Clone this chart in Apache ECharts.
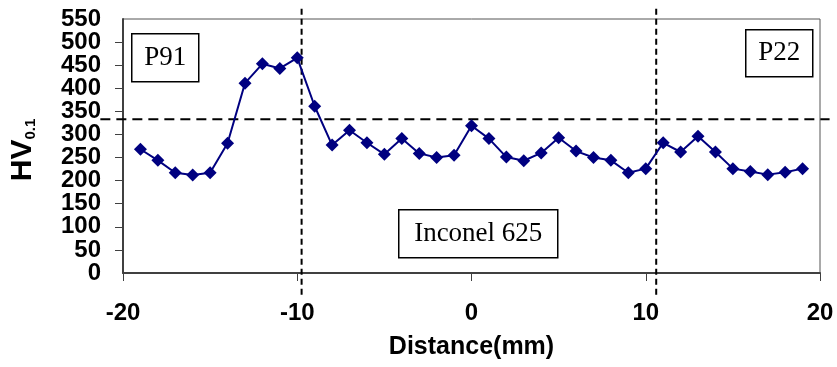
<!DOCTYPE html>
<html>
<head>
<meta charset="utf-8">
<script src="https://cdn.jsdelivr.net/npm/echarts@6/dist/echarts.min.js"></script>
<style>
html,body{margin:0;padding:0;background:#fff}
#chart{width:837px;height:367px}
</style>
</head>
<body>
<div id="chart"></div>
<script>
// microhardness profile across the weld
var distance = [-19,-18,-17,-16,-15,-14,-13,-12,-11,-10,-9,-8,-7,-6,-5,-4,-3,-2,-1,0,
                1,2,3,4,5,6,7,8,9,10,11,12,13,14,15,16,17,18,19];
var hardness = [268,244,217,212,217,281,411,453,443,466,361,277,309,282,257,291,259,250,255,319,
                291,251,243,260,293,264,250,244,217,226,282,262,296,262,226,220,213,218,226];
var hvLimit = 333;               // horizontal dashed line
var fusionLines = [-9.75, 10.6]; // vertical dashed lines
var zoneNames = ['P91', 'Inconel 625', 'P22'];

var sans = '"Liberation Sans", Arial, sans-serif';
var serif = '"Liberation Serif", "Times New Roman", serif';

var points = [];
for (var i = 0; i < distance.length; i++) {
    points.push([distance[i], hardness[i]]);
}

var myChart = echarts.init(document.getElementById('chart'));

var yLabelFont = {fontFamily: sans, fontSize: 24, fontWeight: 'bold', color: '#000'};

option = {
    animation: false,
    grid: {
        left: 123,
        right: 17,
        top: 19,
        bottom: 94,
        show: true,
        borderColor: '#555',
        borderWidth: 1
    },
    xAxis: {
        type: 'value',
        min: -20,
        max: 20,
        interval: 10,
        name: 'Distance(mm)',
        nameLocation: 'middle',
        nameGap: 62,
        nameTextStyle: {fontFamily: sans, fontSize: 25, fontWeight: 'bold', color: '#000'},
        splitLine: {show: false},
        axisLine: {onZero: false, lineStyle: {color: '#404040', width: 2}},
        axisTick: {inside: false, length: 8, lineStyle: {color: '#404040', width: 1}},
        axisLabel: {margin: 28, showMinLabel: true, showMaxLabel: true,
                    fontFamily: sans, fontSize: 24, fontWeight: 'bold', color: '#000'}
    },
    yAxis: [
        {
            type: 'value',
            min: 0,
            max: 550,
            interval: 50,
            name: '{a|HV}{b|0.1}',
            nameLocation: 'middle',
            nameGap: 85,
            nameTextStyle: {
                padding: [0, 0, 0, -8],
                rich: {
                    a: {fontFamily: sans, fontSize: 30, fontWeight: 'bold', color: '#000', lineHeight: 30},
                    b: {fontFamily: sans, fontSize: 15, fontWeight: 'bold', color: '#000', verticalAlign: 'bottom', lineHeight: 15}
                }
            },
            splitLine: {show: false},
            axisLine: {show: true, onZero: false, lineStyle: {color: '#404040', width: 2}},
            axisTick: {show: true, inside: false, length: 8, lineStyle: {color: '#404040', width: 1}},
            axisLabel: Object.assign({margin: 22, showMinLabel: false, showMaxLabel: false}, yLabelFont)
        },
        {
            // same scale again, only to print the end labels (0 and 550) that the
            // first axis drops because the labels are packed so tightly
            type: 'value',
            position: 'left',
            min: 0,
            max: 550,
            interval: 50,
            splitLine: {show: false},
            axisLine: {show: false, onZero: false},
            axisTick: {show: false},
            axisLabel: Object.assign({
                margin: 22, showMinLabel: true, showMaxLabel: true,
                formatter: function (v) { return (v === 0 || v === 550) ? String(v) : ''; }
            }, yLabelFont)
        }
    ],
    series: [
        {
            name: 'HV0.1',
            type: 'line',
            data: points,
            symbol: 'diamond',
            symbolSize: 13,
            z: 5,
            lineStyle: {color: '#000080', width: 2},
            itemStyle: {color: '#000080'}
        }
    ]
};

myChart.setOption(option);

// dashed reference lines, run slightly past the plot frame like the original
var hA = myChart.convertToPixel({gridIndex: 0}, [-21.3, hvLimit]);
var hB = myChart.convertToPixel({gridIndex: 0}, [20.55, hvLimit]);
var graphics = [
    {type: 'line', z: 3, shape: {x1: hA[0], y1: hA[1], x2: hB[0], y2: hB[1]},
     style: {stroke: '#000', lineWidth: 2, lineDash: [10, 6]}}
];
fusionLines.forEach(function (d) {
    var a = myChart.convertToPixel({gridIndex: 0}, [d, 572]);
    var b = myChart.convertToPixel({gridIndex: 0}, [d, -55]);
    graphics.push({type: 'line', z: 3, shape: {x1: a[0], y1: a[1], x2: b[0], y2: b[1]},
        style: {stroke: '#000', lineWidth: 2, lineDash: [6, 4]}});
});

// zone label boxes
var boxes = [
    {x: 131, y: 33, w: 67, h: 48},
    {x: 398, y: 209, w: 159, h: 48},
    {x: 745, y: 29, w: 67, h: 47}
];
boxes.forEach(function (b, i) {
    graphics.push({
        type: 'group', left: b.x, top: b.y, z: 10,
        children: [
            {type: 'rect', shape: {x: 0, y: 0, width: b.w, height: b.h},
             style: {fill: '#fff', stroke: '#000', lineWidth: 1.5}},
            {type: 'text', x: b.w / 2, y: b.h / 2,
             style: {text: zoneNames[i], font: '27px ' + serif, fill: '#000',
                     textAlign: 'center', textVerticalAlign: 'middle'}}
        ]
    });
});

myChart.setOption({graphic: graphics});
</script>
</body>
</html>
